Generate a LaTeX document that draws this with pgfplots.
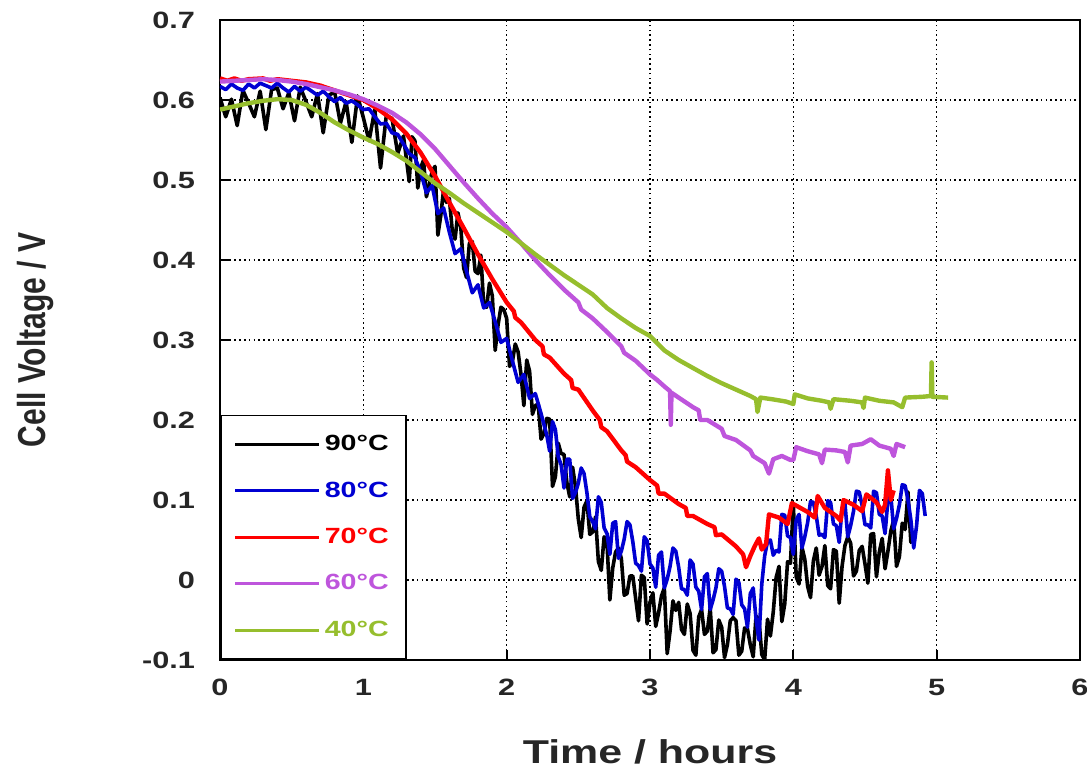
\documentclass[border=0pt]{standalone}
\usepackage{fontspec}
\usepackage{graphicx}
\usepackage{pgfplots}
\pgfplotsset{compat=1.18}
\setmainfont{Liberation Sans}
\newfontfamily\widefont[FakeStretch=1.3]{Liberation Sans}
\definecolor{cblue}{RGB}{0,0,210}
\definecolor{cred}{RGB}{255,0,0}
\definecolor{cpurple}{RGB}{190,85,220}
\definecolor{cgreen}{RGB}{150,190,45}
\begin{document}
\begin{tikzpicture}
\begin{axis}[
  scale only axis, width=430pt, height=320pt,
  xmin=0, xmax=6, ymin=-0.1, ymax=0.7,
  xtick={0,1,2,3,4,5,6}, xticklabels={0,1,2,3,4,5,6},
  ytick={-0.1,0,0.1,0.2,0.3,0.4,0.5,0.6,0.7},
  yticklabels={-0.1,0,0.1,0.2,0.3,0.4,0.5,0.6,0.7},
  tick label style={font=\widefont\bfseries\fontsize{11.8}{12}\selectfont, text=black!85},
  xticklabel style={yshift=-6pt},
  yticklabel style={xshift=-9pt},
  tick align=inside, major tick length=5pt, xtick pos=left, ytick pos=left,
  every tick/.style={black, line width=1pt},
  grid=major,
  major grid style={black, line width=0.7pt, dash pattern=on 0.8pt off 1.6pt},
  axis line style={line width=1pt},
  xlabel={Time / hours},
  ylabel={\scalebox{1}[1.3]{Cell Voltage / V}},
  xlabel style={font=\widefont\bfseries\fontsize{16.5}{18}\selectfont, at={(axis description cs:0.5,-0.1437)}, anchor=center, text=black!85},
  ylabel style={font=\bfseries\fontsize{15}{16}\selectfont, at={(axis description cs:-0.2151,0.5)}, anchor=center, text=black!85},
  legend style={at={(rel axis cs:0,0)}, anchor=south west, draw=black, line width=0.8pt, fill=white,
    inner xsep=6.5pt, inner ysep=9pt, row sep=12pt,
    font=\widefont\bfseries\fontsize{11}{12}\selectfont,
    nodes={inner xsep=2pt, inner ysep=1pt}, cells={anchor=west}},
  legend image code/.code={\draw[#1, line width=1.5pt] (0pt,0pt) -- (42pt,0pt);},
]
\addplot[black, line width=1.8pt, line join=round] coordinates {
(0.00,0.603)(0.04,0.579)(0.08,0.601)(0.12,0.568)(0.16,0.612)(0.20,0.596)(0.24,0.579)(0.28,0.611)(0.32,0.563)(0.36,0.613)(0.40,0.615)(0.44,0.589)(0.48,0.609)(0.52,0.574)(0.56,0.616)(0.60,0.598)(0.64,0.579)(0.68,0.608)(0.72,0.559)(0.76,0.606)(0.80,0.610)(0.84,0.571)(0.88,0.598)(0.92,0.547)(0.96,0.605)(1.00,0.578)(1.04,0.549)(1.08,0.588)(1.12,0.515)(1.16,0.580)(1.20,0.577)(1.24,0.533)
(1.28,0.555)(1.30,0.527)(1.32,0.498)(1.34,0.554)(1.36,0.549)(1.38,0.490)(1.40,0.515)(1.42,0.525)(1.44,0.479)(1.46,0.494)(1.48,0.511)(1.50,0.517)(1.52,0.431)(1.54,0.455)(1.56,0.488)(1.58,0.472)(1.60,0.477)(1.62,0.438)(1.64,0.426)(1.66,0.459)(1.68,0.441)(1.70,0.390)(1.72,0.378)(1.74,0.421)(1.76,0.423)(1.78,0.386)(1.80,0.383)(1.82,0.406)(1.84,0.343)(1.86,0.341)(1.88,0.371)(1.90,0.355)(1.92,0.287)(1.94,0.319)(1.96,0.341)(1.98,0.338)(2.00,0.327)(2.02,0.267)(2.04,0.273)(2.06,0.295)(2.08,0.285)(2.10,0.257)(2.12,0.218)(2.14,0.275)(2.16,0.261)(2.18,0.207)(2.20,0.218)(2.22,0.220)(2.24,0.176)(2.26,0.183)(2.28,0.202)(2.30,0.201)(2.32,0.117)(2.34,0.129)(2.36,0.171)(2.38,0.158)(2.40,0.157)(2.42,0.122)(2.44,0.104)(2.46,0.141)(2.48,0.117)(2.50,0.076)(2.52,0.053)(2.54,0.091)(2.56,0.099)(2.58,0.057)(2.60,0.060)(2.62,0.079)(2.64,0.023)(2.66,0.012)(2.68,0.054)(2.70,0.046)(2.72,-0.025)(2.74,0.015)(2.76,0.035)(2.78,0.040)(2.80,0.027)(2.82,-0.019)(2.84,-0.017)(2.86,0.005)(2.88,0.005)(2.90,-0.023)(2.92,-0.051)(2.94,0.006)(2.96,0.003)(2.98,-0.055)(3.00,-0.028)(3.02,-0.016)(3.04,-0.058)(3.06,-0.041)(3.08,-0.020)(3.10,-0.010)(3.12,-0.092)(3.14,-0.064)(3.16,-0.026)(3.18,-0.038)(3.20,-0.028)(3.22,-0.062)(3.24,-0.068)(3.26,-0.030)(3.28,-0.042)(3.30,-0.088)(3.32,-0.094)(3.34,-0.046)(3.36,-0.037)(3.38,-0.068)(3.40,-0.064)(3.42,-0.035)(3.44,-0.091)(3.46,-0.087)(3.48,-0.050)(3.50,-0.059)(3.52,-0.097)(3.54,-0.081)(3.56,-0.051)(3.58,-0.047)(3.60,-0.051)(3.62,-0.094)(3.64,-0.089)(3.66,-0.060)(3.68,-0.061)(3.70,-0.081)(3.72,-0.096)(3.74,-0.045)(3.76,-0.049)(3.78,-0.093)(3.80,-0.100)(3.82,-0.049)(3.84,-0.070)(3.86,-0.040)(3.88,0.003)(3.90,0.017)(3.92,-0.052)(3.94,-0.030)(3.96,0.023)(3.98,0.021)(4.00,0.095)(4.02,0.004)(4.04,-0.005)(4.06,0.041)(4.08,0.026)(4.10,-0.008)(4.12,-0.022)(4.14,0.024)(4.16,0.040)(4.18,0.006)(4.20,0.017)(4.22,0.043)(4.24,-0.007)(4.26,-0.011)(4.28,0.038)(4.30,0.036)(4.32,-0.029)(4.34,0.017)(4.36,0.043)(4.38,0.054)(4.40,0.046)(4.42,0.005)(4.44,0.011)(4.46,0.037)(4.48,0.042)(4.50,0.020)(4.52,-0.004)(4.54,0.057)(4.56,0.058)(4.58,0.004)(4.60,0.035)(4.62,0.052)(4.64,0.014)(4.66,0.036)(4.68,0.061)(4.70,0.075)(4.72,0.017)(4.74,0.029)(4.76,0.071)(4.78,0.063)(4.80,0.110)(4.82,0.047)(4.84,0.058)
};
\addlegendentry{\textcolor{black}{90°C}}
\addplot[cblue, line width=1.8pt, line join=round] coordinates {
(0.00,0.617)(0.04,0.613)(0.08,0.620)(0.12,0.615)(0.16,0.612)(0.20,0.620)(0.24,0.615)(0.28,0.621)(0.32,0.618)(0.36,0.615)(0.40,0.621)(0.44,0.615)(0.48,0.610)(0.52,0.617)(0.56,0.611)(0.60,0.616)(0.64,0.611)(0.68,0.606)(0.72,0.611)(0.76,0.604)(0.80,0.598)(0.84,0.603)(0.88,0.596)(0.92,0.599)(0.96,0.594)(1.00,0.588)(1.04,0.589)(1.08,0.579)(1.12,0.570)(1.16,0.571)(1.20,0.559)(1.24,0.557)(1.28,0.545)(1.32,0.533)(1.36,0.528)(1.40,0.510)(1.44,0.484)(1.48,0.493)(1.52,0.458)(1.56,0.465)(1.60,0.435)(1.64,0.408)(1.68,0.414)(1.72,0.386)(1.76,0.359)(1.80,0.369)(1.84,0.340)(1.88,0.347)(1.92,0.323)(1.96,0.297)(2.00,0.302)(2.04,0.274)(2.08,0.247)(2.12,0.257)(2.16,0.227)(2.20,0.233)(2.24,0.208)
(2.28,0.181)(2.30,0.161)(2.32,0.198)(2.34,0.188)(2.36,0.154)(2.38,0.144)(2.40,0.115)(2.42,0.151)(2.44,0.151)(2.46,0.102)(2.48,0.109)(2.50,0.121)(2.52,0.140)(2.54,0.133)(2.56,0.109)(2.58,0.079)(2.60,0.073)(2.62,0.064)(2.64,0.104)(2.66,0.097)(2.68,0.065)(2.70,0.058)(2.72,0.032)(2.74,0.071)(2.76,0.073)(2.78,0.027)(2.80,0.036)(2.82,0.051)(2.84,0.073)(2.86,0.069)(2.88,0.048)(2.90,0.021)(2.92,0.018)(2.94,0.011)(2.96,0.054)(2.98,0.049)(3.00,0.020)(3.02,0.015)(3.04,-0.009)(3.06,0.031)(3.08,0.035)(3.10,-0.010)(3.12,0.001)(3.14,0.017)(3.16,0.040)(3.18,0.036)(3.20,0.016)(3.22,-0.011)(3.24,-0.012)(3.26,-0.019)(3.28,0.025)(3.30,0.020)(3.32,-0.009)(3.34,-0.014)(3.36,-0.037)(3.38,0.004)(3.40,0.008)(3.42,-0.037)(3.44,-0.025)(3.46,-0.010)(3.48,0.014)(3.50,0.011)(3.52,-0.008)(3.54,-0.035)(3.56,-0.036)(3.58,-0.043)(3.60,0.001)(3.62,-0.003)(3.64,-0.031)(3.66,-0.036)(3.68,-0.059)(3.70,-0.017)(3.72,-0.010)(3.74,-0.049)(3.76,-0.075)(3.78,-0.005)(3.80,0.030)(3.82,0.048)(3.84,0.050)(3.86,0.031)(3.88,0.037)(3.90,0.035)(3.92,0.082)(3.94,0.081)(3.96,0.055)(3.98,0.053)(4.00,0.032)(4.02,0.075)(4.04,0.082)(4.06,0.040)(4.08,0.054)(4.10,0.072)(4.12,0.098)(4.14,0.097)(4.16,0.080)(4.18,0.056)(4.20,0.057)(4.22,0.053)(4.24,0.099)(4.26,0.097)(4.28,0.070)(4.30,0.068)(4.32,0.047)(4.34,0.090)(4.36,0.096)(4.38,0.054)(4.40,0.068)(4.42,0.086)(4.44,0.111)(4.46,0.110)(4.48,0.093)(4.50,0.069)(4.52,0.069)(4.54,0.065)(4.56,0.111)(4.58,0.109)(4.60,0.082)(4.62,0.080)(4.64,0.058)(4.66,0.100)(4.68,0.106)(4.70,0.064)(4.72,0.077)(4.74,0.094)(4.76,0.119)(4.78,0.118)(4.80,0.100)(4.82,0.075)(4.84,0.040)(4.86,0.068)(4.88,0.112)(4.90,0.108)(4.92,0.080)
};
\addlegendentry{\textcolor{cblue}{80°C}}
\addplot[cred, line width=2.2pt, line join=round] coordinates {
(0.00,0.627)(0.05,0.624)(0.10,0.627)(0.15,0.624)(0.20,0.626)(0.30,0.627)(0.35,0.624)(0.40,0.626)(0.50,0.624)(0.60,0.622)(0.70,0.618)(0.80,0.612)(0.90,0.606)(1.00,0.600)(1.10,0.589)(1.20,0.576)(1.30,0.558)(1.40,0.534)(1.50,0.505)(1.60,0.472)(1.70,0.440)(1.80,0.407)(1.90,0.376)(2.00,0.347)(2.05,0.336)(2.06,0.328)(2.10,0.322)(2.20,0.300)(2.25,0.292)(2.26,0.282)(2.30,0.278)(2.40,0.258)(2.45,0.250)(2.46,0.240)(2.50,0.238)(2.60,0.212)(2.65,0.200)(2.66,0.191)(2.70,0.186)(2.80,0.162)(2.83,0.156)(2.84,0.148)(2.90,0.141)(3.00,0.125)(3.05,0.118)(3.06,0.108)(3.10,0.108)(3.20,0.095)(3.25,0.090)(3.26,0.080)(3.30,0.080)(3.40,0.070)(3.45,0.066)(3.46,0.056)(3.50,0.057)(3.60,0.042)(3.65,0.032)(3.67,0.016)(3.70,0.030)(3.73,0.042)(3.76,0.052)(3.78,0.038)(3.81,0.045)(3.83,0.082)(3.90,0.078)(3.96,0.070)(3.99,0.096)(4.05,0.090)(4.10,0.085)(4.15,0.078)(4.17,0.105)(4.22,0.090)(4.30,0.080)(4.33,0.074)(4.35,0.100)(4.42,0.094)(4.48,0.086)(4.51,0.107)(4.58,0.097)(4.62,0.085)(4.64,0.094)(4.66,0.137)(4.68,0.100)(4.70,0.112)
};
\addlegendentry{\textcolor{cred}{70°C}}
\addplot[cpurple, line width=2.2pt, line join=round] coordinates {
(0.00,0.623)(0.10,0.624)(0.20,0.625)(0.30,0.626)(0.40,0.625)(0.50,0.623)(0.60,0.620)(0.70,0.616)(0.80,0.612)(0.90,0.607)(1.00,0.601)(1.10,0.593)(1.20,0.584)(1.30,0.572)(1.40,0.557)(1.50,0.539)(1.60,0.518)(1.70,0.497)(1.80,0.477)(1.90,0.458)(2.00,0.441)(2.10,0.421)(2.20,0.400)(2.30,0.381)(2.40,0.363)(2.50,0.347)(2.52,0.338)(2.60,0.327)(2.70,0.310)(2.80,0.292)(2.82,0.284)(2.90,0.274)(3.00,0.257)(3.05,0.250)(3.10,0.242)(3.14,0.236)(3.145,0.194)(3.15,0.234)(3.20,0.228)(3.30,0.216)(3.34,0.212)(3.35,0.200)(3.40,0.200)(3.50,0.189)(3.52,0.180)(3.60,0.175)(3.70,0.162)(3.72,0.155)(3.80,0.146)(3.83,0.133)(3.86,0.151)(3.92,0.155)(3.98,0.150)(4.00,0.150)(4.02,0.166)(4.10,0.161)(4.18,0.157)(4.20,0.146)(4.22,0.163)(4.30,0.162)(4.36,0.160)(4.38,0.147)(4.40,0.168)(4.48,0.170)(4.54,0.176)(4.60,0.168)(4.68,0.164)(4.70,0.155)(4.72,0.170)(4.78,0.166)
};
\addlegendentry{\textcolor{cpurple}{60°C}}
\addplot[cgreen, line width=2.2pt, line join=round] coordinates {
(0.00,0.588)(0.10,0.592)(0.20,0.596)(0.30,0.599)(0.40,0.601)(0.50,0.600)(0.60,0.594)(0.70,0.584)(0.80,0.572)(0.90,0.562)(1.00,0.553)(1.10,0.545)(1.20,0.535)(1.30,0.524)(1.40,0.510)(1.50,0.496)(1.60,0.484)(1.70,0.471)(1.80,0.459)(1.90,0.447)(2.00,0.435)(2.10,0.421)(2.20,0.407)(2.30,0.394)(2.40,0.381)(2.50,0.369)(2.60,0.357)(2.70,0.340)(2.80,0.327)(2.90,0.315)(3.00,0.305)(3.10,0.287)(3.20,0.275)(3.30,0.265)(3.40,0.255)(3.50,0.246)(3.60,0.238)(3.70,0.230)(3.74,0.226)(3.75,0.210)(3.77,0.228)(3.85,0.226)(3.95,0.223)(4.00,0.220)(4.01,0.232)(4.10,0.227)(4.20,0.224)(4.25,0.222)(4.26,0.214)(4.28,0.226)(4.40,0.224)(4.48,0.222)(4.49,0.215)(4.50,0.228)(4.60,0.224)(4.70,0.222)(4.76,0.216)(4.78,0.228)(4.90,0.229)(4.96,0.230)(4.965,0.272)(4.97,0.229)(5.08,0.228)
};
\addlegendentry{\textcolor{cgreen}{40°C}}
\coordinate (SW) at (rel axis cs:0,0);
\coordinate (NE) at (rel axis cs:1,1);
\end{axis}
\pgfresetboundingbox
\path[use as bounding box] ([xshift=-110pt,yshift=-54pt]SW) rectangle ([xshift=3.5pt,yshift=10pt]NE);
\end{tikzpicture}
\end{document}
